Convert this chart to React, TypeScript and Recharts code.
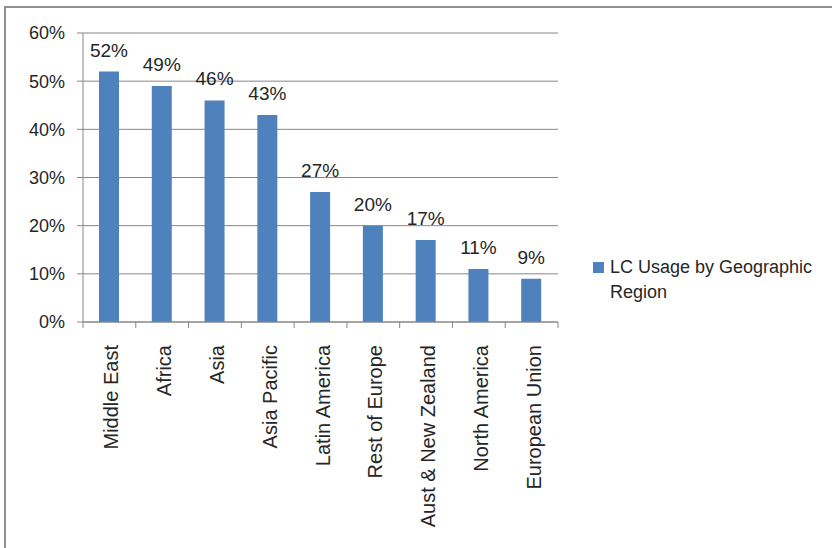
import { BarChart, Bar, XAxis, YAxis, CartesianGrid, Legend } from "recharts";

const regions = [
  "Middle East",
  "Africa",
  "Asia",
  "Asia Pacific",
  "Latin America",
  "Rest of Europe",
  "Aust & New Zealand",
  "North America",
  "European Union",
];
const usage = [52, 49, 46, 43, 27, 20, 17, 11, 9];
const yTicks = [0, 10, 20, 30, 40, 50, 60];
const seriesName = "LC Usage by Geographic Region";

const data = regions.map((region, i) => ({ region, usage: usage[i] }));

const FONT = "'Liberation Sans', Arial, sans-serif";
const BLUE = "#4F81BD";
const GRID = "#868686";
const TEXT = "#262626";

/* category ticks: boundary marks like Excel, label rotated */
const RegionTick = (props: any) => {
  const { x, y, payload, index, visibleTicksCount } = props;
  const off = payload?.offset ?? 26.4;
  const ty = y + 23;
  const last = index === (visibleTicksCount ?? regions.length) - 1;
  return (
    <g>
      <line x1={x - off} y1={y} x2={x - off} y2={y + 6} stroke={GRID} />
      {last && <line x1={x + off} y1={y} x2={x + off} y2={y + 6} stroke={GRID} />}
      <text
        x={x + 2}
        y={ty}
        transform={`rotate(-90, ${x + 2}, ${ty})`}
        textAnchor="end"
        dominantBaseline="central"
        fill={TEXT}
        fontSize={20}
        fontFamily={FONT}
      >
        {payload.value}
      </text>
    </g>
  );
};

const renderLegend = () => (
  <div style={{ display: "flex", alignItems: "flex-start", fontFamily: FONT }}>
    <div
      style={{
        width: 11,
        height: 11,
        background: BLUE,
        marginTop: 7,
        marginRight: 6,
        flexShrink: 0,
      }}
    />
    <div style={{ width: 212, fontSize: 18, lineHeight: "25px", color: TEXT }}>
      {seriesName}
    </div>
  </div>
);

export default function App() {
  return (
    <div
      style={{
        position: "absolute",
        left: 0,
        top: 0,
        width: 832,
        height: 548,
        overflow: "hidden",
        background: "#fff",
      }}
    >
      <div
        style={{
          position: "absolute",
          left: 4,
          top: 6,
          width: 1000,
          height: 1000,
          border: "2px solid #8f8f8f",
        }}
      />
      <div style={{ position: "absolute", left: 0, top: 0 }}>
        <BarChart
          width={832}
          height={548}
          data={data}
          margin={{ top: 33, right: 274, left: 0, bottom: 0 }}
          barSize={20}
        >
          <CartesianGrid vertical={false} stroke={GRID} />
          <XAxis
            dataKey="region"
            interval={0}
            height={226}
            tickSize={0}
            tickMargin={0}
            tickLine={false}
            axisLine={{ stroke: GRID }}
            tick={<RegionTick />}
          />
          <YAxis
            width={83}
            domain={[0, 60]}
            ticks={yTicks}
            tickFormatter={(v: number) => `${v}%`}
            tickSize={6}
            tickMargin={12}
            tickLine={{ stroke: GRID }}
            axisLine={{ stroke: GRID }}
            tick={{ fill: TEXT, fontSize: 18, fontFamily: FONT }}
          />
          <Legend
            layout="vertical"
            align="center"
            verticalAlign="middle"
            content={renderLegend}
            wrapperStyle={{ position: "absolute", left: 593, top: 255, width: 235 }}
          />
          <Bar
            dataKey="usage"
            name={seriesName}
            fill={BLUE}
            isAnimationActive={false}
            label={{
              position: "top",
              offset: 15,
              formatter: (v: any) => `${v}%`,
              fill: TEXT,
              fontSize: 19,
              fontFamily: FONT,
            }}
          />
        </BarChart>
      </div>
    </div>
  );
}
